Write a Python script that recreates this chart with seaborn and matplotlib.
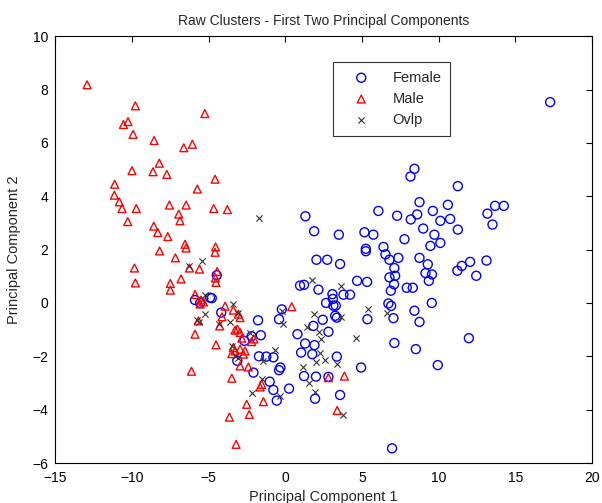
import matplotlib
matplotlib.use("Agg")
import matplotlib.pyplot as plt
import seaborn as sns
import pandas as pd

# ---- data ----
female_pts = [
    (17.27, 7.53),
    (8.42, 5.03), (8.16, 4.74), (11.25, 4.38), (8.75, 3.78), (10.6, 3.68), (6.07, 3.45),
    (7.29, 3.27), (8.6, 3.32), (8.18, 3.13), (9.62, 3.45), (10.11, 3.08), (10.75, 3.15),
    (13.68, 3.64), (14.25, 3.64), (13.18, 3.35), (13.51, 2.94), (11.25, 2.75), (8.99, 2.79),
    (5.74, 2.56), (9.72, 2.56), (7.77, 2.39), (9.46, 2.14), (10.11, 2.25), (6.40, 2.10),
    (6.53, 1.82), (6.79, 1.62), (7.37, 1.69), (8.75, 1.69), (9.29, 1.45), (7.11, 1.31),
    (9.14, 1.12), (9.56, 1.07), (9.36, 0.83), (6.79, 0.96), (7.16, 1.02), (7.09, 0.70),
    (6.88, 0.46), (7.92, 0.57), (8.31, 0.57), (11.22, 1.21), (11.51, 1.39), (12.05, 1.54),
    (12.45, 1.02), (13.12, 1.59),
    (6.72, -0.02), (6.90, -0.11), (7.05, -0.57), (8.42, -0.29), (9.55, 0.0), (8.75, -0.71),
    (7.11, -1.50), (8.51, -1.73), (11.97, -1.32), (9.94, -2.33), (6.96, -5.45),
    (1.31, 3.25), (1.88, 2.69), (3.49, 2.56), (5.16, 2.65), (5.25, 2.03), (5.25, 1.94),
    (2.03, 1.62), (2.73, 1.62), (3.57, 1.46), (0.96, 0.65), (1.22, 0.68), (2.16, 0.50),
    (3.07, 0.33), (3.10, 0.15), (3.79, 0.31), (4.22, 0.31), (4.68, 0.83), (5.33, 0.79),
    (2.66, 0.0), (3.13, -0.10), (3.29, -0.10), (5.35, -0.61), (2.44, -0.63), (3.25, -0.48),
    (3.36, -0.55), (1.83, -0.86), (2.81, -1.08), (0.79, -1.17), (1.29, -1.52), (1.90, -1.58),
    (1.03, -1.86), (1.76, -1.92), (3.36, -2.01), (4.94, -2.42), (1.22, -2.74), (2.0, -2.76),
    (2.81, -2.77), (1.94, -3.59), (3.57, -3.45), (0.24, -3.21),
    (-1.78, -0.65), (-0.41, -0.61), (-0.23, -0.24), (-1.6, -1.21), (-2.2, -1.25),
    (-2.67, -1.42), (-4.18, -0.36), (-4.47, 1.04), (-5.89, 0.11), (-5.55, 0.0),
    (-4.91, 0.20), (-4.80, 0.18), (-1.72, -2.0), (-1.24, -2.01), (-0.78, -2.04),
    (-0.41, -2.52), (-0.32, -2.42), (-3.13, -2.17), (-2.08, -2.61), (-1.02, -2.95),
    (-0.78, -3.26), (-0.56, -3.66),
]
male_pts = [
    (-12.93, 8.18), (-9.78, 7.39), (-5.25, 7.10), (-10.26, 6.80), (-10.56, 6.69),
    (-9.93, 6.32), (-8.56, 6.09), (-6.06, 5.95), (-6.62, 5.82), (-8.22, 5.24), (-10.0, 4.96),
    (-8.63, 4.92), (-7.73, 4.82), (-4.58, 4.64), (-11.13, 4.45), (-5.74, 4.27), (-11.15, 4.04),
    (-10.83, 3.79), (-10.65, 3.54), (-9.72, 3.54), (-7.56, 3.67), (-6.47, 3.67), (-4.67, 3.54),
    (-3.78, 3.50), (-6.95, 3.33), (-6.87, 3.08), (-10.28, 3.05), (-8.58, 2.88), (-8.32, 2.64),
    (-7.67, 2.49), (-6.54, 2.20), (-6.47, 2.06), (-8.20, 1.95), (-4.55, 2.10), (-4.58, 1.90),
    (-7.17, 1.69), (-9.84, 1.31), (-9.78, 0.75), (-7.50, 0.73), (-7.50, 0.48), (-6.80, 0.90),
    (-6.26, 1.31), (-5.60, 1.27), (-4.45, 1.18), (-4.56, 0.94), (-4.52, 0.77), (-5.89, 0.32),
    (-5.56, -0.04), (-5.34, 0.04), (-5.51, 0.11), (-3.93, -0.12), (-4.13, -0.52),
    (-3.39, -0.27), (-3.06, -0.42), (-2.95, -0.55), (-5.67, -0.67), (-4.28, -0.86),
    (-3.28, -1.02), (-3.13, -0.98), (-2.95, -1.11), (-5.89, -1.17), (-2.84, -1.32),
    (-2.20, -1.45), (-2.05, -1.35), (-4.52, -1.57), (-3.39, -1.67), (-3.49, -1.90),
    (-3.28, -1.80), (-2.95, -1.73), (-2.63, -1.80), (-2.74, -1.92), (-2.95, -2.36),
    (-2.41, -2.40), (-6.12, -2.56), (-3.49, -2.82), (-1.54, -3.05), (-1.65, -3.15),
    (-2.52, -3.80), (-1.43, -3.70), (-2.35, -4.18), (-3.65, -4.28), (-3.21, -5.30),
    (0.42, -0.14), (2.81, -2.80), (3.85, -2.74), (3.38, -4.03),
]
ovlp_pts = [
    (-1.69, 3.18), (-6.26, 1.40), (-5.45, 1.59), (-5.24, 0.30), (-3.43, -0.04),
    (-3.06, -0.36), (-5.24, -0.42), (-5.78, -0.62), (-5.65, -0.72), (-4.30, -0.77),
    (-3.60, -0.70), (-2.30, -1.11), (-3.49, -1.61), (-3.25, -1.98), (-3.06, -2.08),
    (-0.67, -1.77), (-1.43, -2.19), (-1.54, -2.86), (-2.19, -3.36), (-0.34, -3.49),
    (-0.19, -0.29), (-0.17, -0.77), (1.72, 0.87), (3.66, 0.65), (5.42, -0.23),
    (1.88, -0.42), (3.64, -0.52), (1.44, -0.89), (2.20, -1.07), (2.31, -1.36),
    (4.60, -1.33), (2.27, -1.86), (2.59, -2.15), (2.00, -2.21), (3.40, -2.30),
    (1.14, -2.40), (1.55, -2.99), (1.94, -3.33), (3.79, -4.20), (6.62, -0.38),
]
labels = ["Female", "Male", "Ovlp"]
x_ticks = [-15, -10, -5, 0, 5, 10, 15, 20]
y_ticks = [-6, -4, -2, 0, 2, 4, 6, 8, 10]

sns.set_style("white")
plt.rcParams['font.family'] = ['Liberation Sans', 'DejaVu Sans']

def frame(pts, name):
    return pd.DataFrame({"pc1": [p[0] for p in pts], "pc2": [p[1] for p in pts], "group": name})

df_f = frame(female_pts, labels[0])
df_m = frame(male_pts, labels[1])
df_o = frame(ovlp_pts, labels[2])

fig = plt.figure(figsize=(6.02, 5.03), dpi=100)
ax = fig.add_axes([0.0919, 0.0795, 0.8915, 0.8485])

sns.scatterplot(data=df_f, x="pc1", y="pc2", ax=ax, marker="o", s=42,
                facecolors="none", edgecolor="#0000ff", linewidth=1.0, label=labels[0])
sns.scatterplot(data=df_m, x="pc1", y="pc2", ax=ax, marker="^", s=32,
                facecolors="none", edgecolor="#ff0000", linewidth=1.0, label=labels[1])
sns.scatterplot(data=df_o, x="pc1", y="pc2", ax=ax, marker="x", s=20,
                color="#333333", linewidth=0.8, label=labels[2])

ax.set_xlim(-15, 20)
ax.set_ylim(-6, 10)
ax.set_xticks(x_ticks)
ax.set_yticks(y_ticks)
ax.tick_params(direction="in", length=4, width=0.8, top=True, right=True,
               labelsize=10, colors="black")
ax.tick_params(axis="x", pad=6)
ax.tick_params(axis="y", pad=5)
for sp in ax.spines.values():
    sp.set_visible(True)
    sp.set_color("black")
    sp.set_linewidth(0.8)

ax.set_title("Raw Clusters - First Two Principal Components", fontsize=10, pad=8)
ax.set_xlabel("Principal Component 1", fontsize=10.5, labelpad=3)
ax.set_ylabel("Principal Component 2", fontsize=10.5, labelpad=8)

leg = ax.legend(loc="upper left", bbox_to_anchor=(0.517, 0.94), frameon=True,
                fancybox=False, fontsize=10.5, borderpad=0.6, labelspacing=0.5,
                handletextpad=0.8, borderaxespad=0, handlelength=2.7)
leg.get_frame().set_edgecolor("black")
leg.get_frame().set_linewidth(0.8)

fig.savefig("out.png", dpi=100)
